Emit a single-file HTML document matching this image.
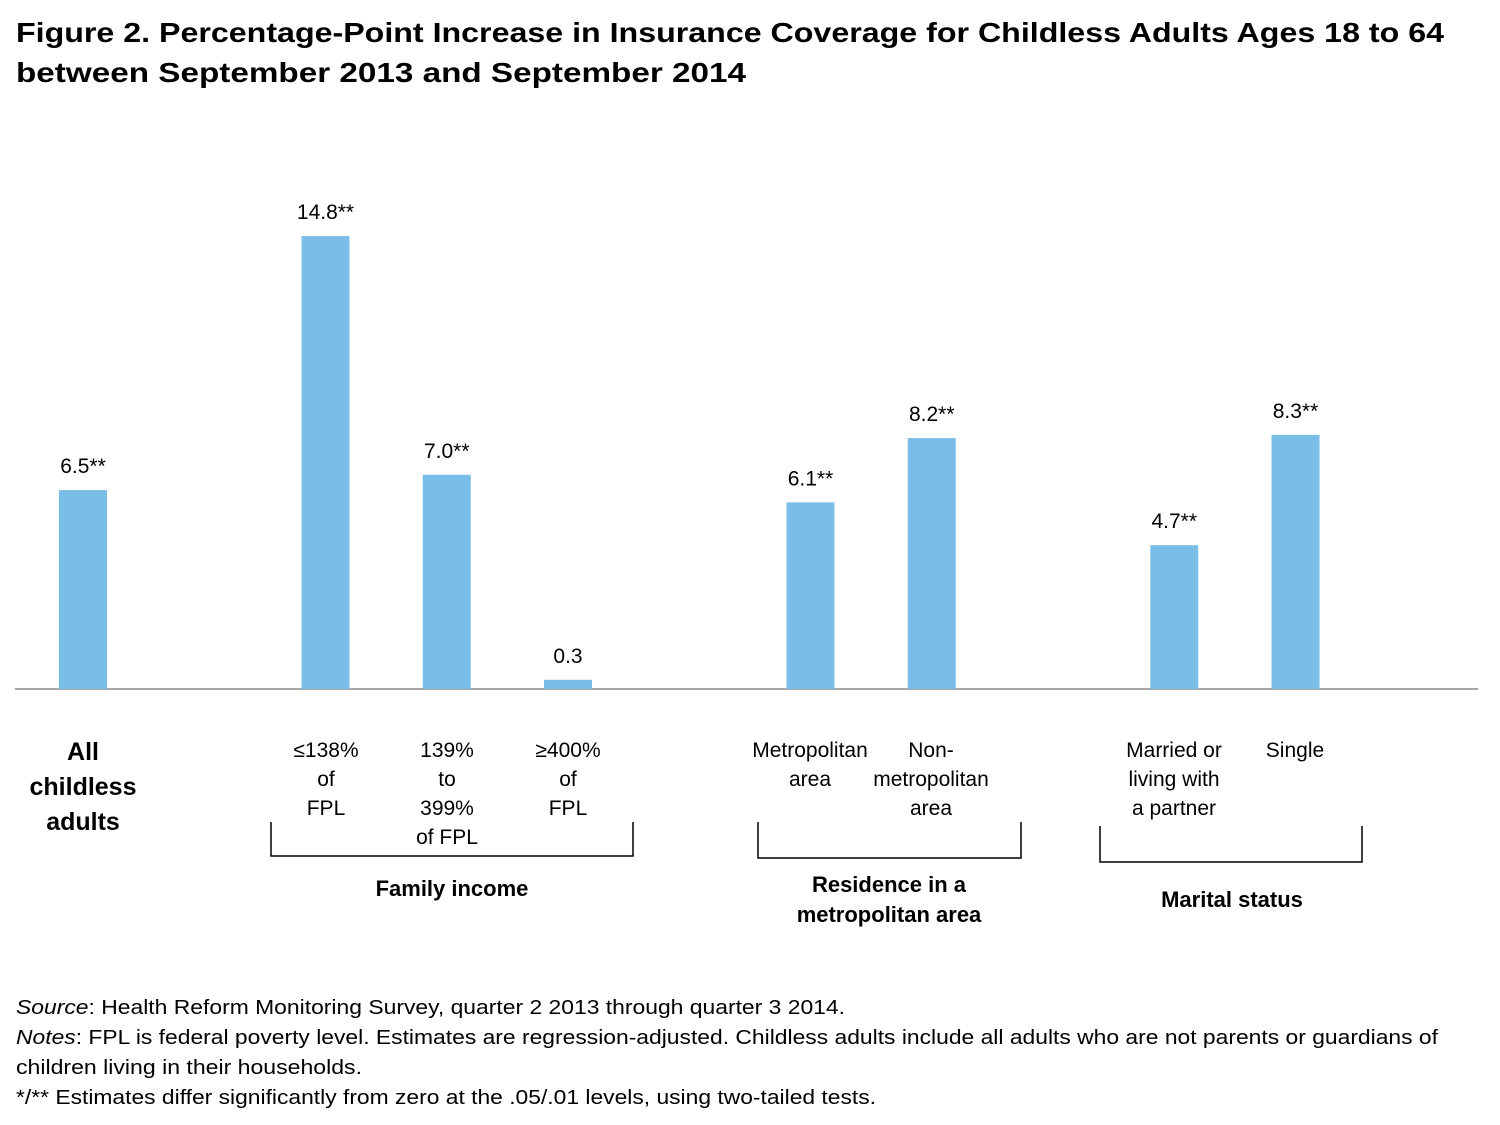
<!DOCTYPE html>
<html><head><meta charset="utf-8"><style>
html,body{margin:0;padding:0;background:#fff;}
svg{display:block;font-family:"Liberation Sans",sans-serif;}
</style></head><body>
<svg id="chart" width="1500" height="1125" viewBox="0 0 1500 1125">
<g font-weight="bold" font-size="28" fill="#000">
<text x="16" y="42" textLength="1428" lengthAdjust="spacingAndGlyphs">Figure 2. Percentage-Point Increase in Insurance Coverage for Childless Adults Ages 18 to 64</text>
<text x="16" y="82" textLength="730" lengthAdjust="spacingAndGlyphs">between September 2013 and September 2014</text>
</g>
<line x1="15" y1="689" x2="1478" y2="689" stroke="#888" stroke-width="1.5"/>
<g id="bars"></g>
<g font-size="21" fill="#000" text-anchor="middle">
<g font-weight="bold" font-size="25">
<text x="83" y="760">All</text><text x="83" y="795">childless</text><text x="83" y="830">adults</text></g>
<text x="326" y="757">≤138%</text><text x="326" y="786">of</text><text x="326" y="815">FPL</text>
<text x="447" y="757">139%</text><text x="447" y="786">to</text><text x="447" y="815">399%</text><text x="447" y="844">of FPL</text>
<text x="568" y="757">≥400%</text><text x="568" y="786">of</text><text x="568" y="815">FPL</text>
<text x="810" y="757">Metropolitan</text><text x="810" y="786">area</text>
<text x="931" y="757">Non-</text><text x="931" y="786">metropolitan</text><text x="931" y="815">area</text>
<text x="1174" y="757">Married or</text><text x="1174" y="786">living with</text><text x="1174" y="815">a partner</text>
<text x="1295" y="757">Single</text>
</g>
<g fill="none" stroke="#000" stroke-width="1.5">
<path d="M271 822V856H633V822"/>
<path d="M758 822V858H1021V822"/>
<path d="M1100 826V862H1362V826"/>
</g>
<g font-weight="bold" font-size="22" text-anchor="middle" fill="#000">
<text x="452" y="896">Family income</text>
<text x="889" y="892">Residence in a</text><text x="889" y="922">metropolitan area</text>
<text x="1232" y="907">Marital status</text>
</g>
<g font-size="20" fill="#000">
<text x="16" y="1014" textLength="829" lengthAdjust="spacingAndGlyphs"><tspan font-style="italic">Source</tspan>: Health Reform Monitoring Survey, quarter 2 2013 through quarter 3 2014.</text>
<text x="16" y="1044" textLength="1422" lengthAdjust="spacingAndGlyphs"><tspan font-style="italic">Notes</tspan>:  FPL is federal poverty level.  Estimates are regression-adjusted.  Childless adults include all adults who are not parents or guardians of</text>
<text x="16" y="1074" textLength="346" lengthAdjust="spacingAndGlyphs">children living in their households.</text>
<text x="16" y="1104" textLength="860" lengthAdjust="spacingAndGlyphs">*/** Estimates differ significantly from zero at the .05/.01 levels, using two-tailed tests.</text>
</g>
</svg>
<script>
const categories = ["All childless adults","≤138% of FPL","139% to 399% of FPL","≥400% of FPL","Metropolitan area","Non-metropolitan area","Married or living with a partner","Single"];
const slots = [0,2,3,4,6,7,9,10];
const values = [6.5,14.8,7.0,0.3,6.1,8.2,4.7,8.3];
const labels = ["6.5**","14.8**","7.0**","0.3","6.1**","8.2**","4.7**","8.3**"];
const NS="http://www.w3.org/2000/svg";
const baseY=689, pxPerUnit=30.6, x0=83, slotW=121.25, barW=48;
const yScale=v=>baseY-v*pxPerUnit;
const xScale=s=>x0+s*slotW;
const g=document.getElementById('bars');
values.forEach((v,i)=>{
  const cx=xScale(slots[i]);
  const r=document.createElementNS(NS,'rect');
  r.setAttribute('x',cx-barW/2);r.setAttribute('y',yScale(v));
  r.setAttribute('width',barW);r.setAttribute('height',baseY-yScale(v));
  r.setAttribute('fill','#7abde6');
  
  
  g.appendChild(r);
  const t=document.createElementNS(NS,'text');
  t.setAttribute('x',cx);t.setAttribute('y',yScale(v)-17);
  t.setAttribute('text-anchor','middle');t.setAttribute('font-size','21');
  t.textContent=labels[i];
  
  
  g.appendChild(t);
});
</script>
</body></html>
